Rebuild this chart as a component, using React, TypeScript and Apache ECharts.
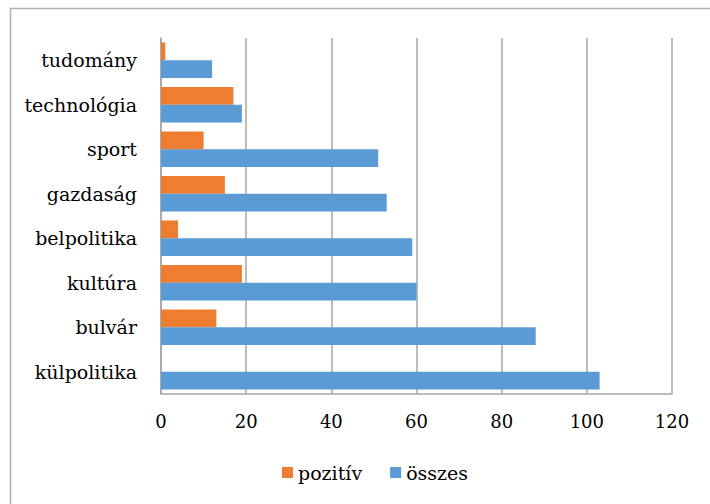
import React, { useEffect, useRef } from "react";
import * as echarts from "echarts";

const categories = ["külpolitika", "bulvár", "kultúra", "belpolitika", "gazdaság", "sport", "technológia", "tudomány"];
const pozitiv = [0, 13, 19, 4, 15, 10, 17, 1];
const osszes = [103, 88, 60, 59, 53, 51, 19, 12];
const xTicks = { min: 0, max: 120, interval: 20 };

export default function App() {
  const ref = useRef<HTMLDivElement>(null);
  useEffect(() => {
    document.body.style.margin = "0";
    const chart = echarts.init(ref.current!, null, { renderer: "svg" });
    const font = "DejaVu Serif";
    chart.setOption({
      animation: false,
      backgroundColor: "#ffffff",
      textStyle: { fontFamily: font },
      graphic: [
        {
          type: "rect",
          shape: { x: 10.5, y: 8.5, width: 800, height: 600 },
          style: { fill: "none", stroke: "#b0b0b0", lineWidth: 1.5 },
          silent: true,
        },
      ],
      grid: { left: 161, right: 38, top: 38, bottom: 110 },
      legend: {
        data: ["pozitív", "összes"],
        bottom: 17,
        left: 277,
        itemWidth: 11,
        itemHeight: 11,
        itemGap: 28,
        icon: "rect",
        textStyle: { fontFamily: font, fontSize: 19, color: "#000" },
      },
      xAxis: {
        type: "value",
        min: xTicks.min,
        max: xTicks.max,
        interval: xTicks.interval,
        axisLine: { show: true, lineStyle: { color: "#a6a6a6", width: 1.5 } },
        axisTick: { show: false },
        splitLine: { show: true, lineStyle: { color: "#a6a6a6", width: 1.5 } },
        axisLabel: { fontFamily: font, fontSize: 18, color: "#000", margin: 18 },
      },
      yAxis: {
        type: "category",
        data: categories,
        axisLine: { show: true, lineStyle: { color: "#a6a6a6", width: 1.5 } },
        axisTick: { show: false },
        axisLabel: { fontFamily: font, fontSize: 19, color: "#000", margin: 24 },
      },
      series: [
        {
          name: "pozitív",
          type: "bar",
          data: pozitiv,
          itemStyle: { color: "#ED7D31" },
          barGap: "0%",
          barCategoryGap: "20%",
        },
        {
          name: "összes",
          type: "bar",
          data: osszes,
          itemStyle: { color: "#5B9BD5" },
          barGap: "0%",
          barCategoryGap: "20%",
        },
      ],
    });
    return () => chart.dispose();
  }, []);
  return <div ref={ref} style={{ width: 710, height: 504 }} />;
}
